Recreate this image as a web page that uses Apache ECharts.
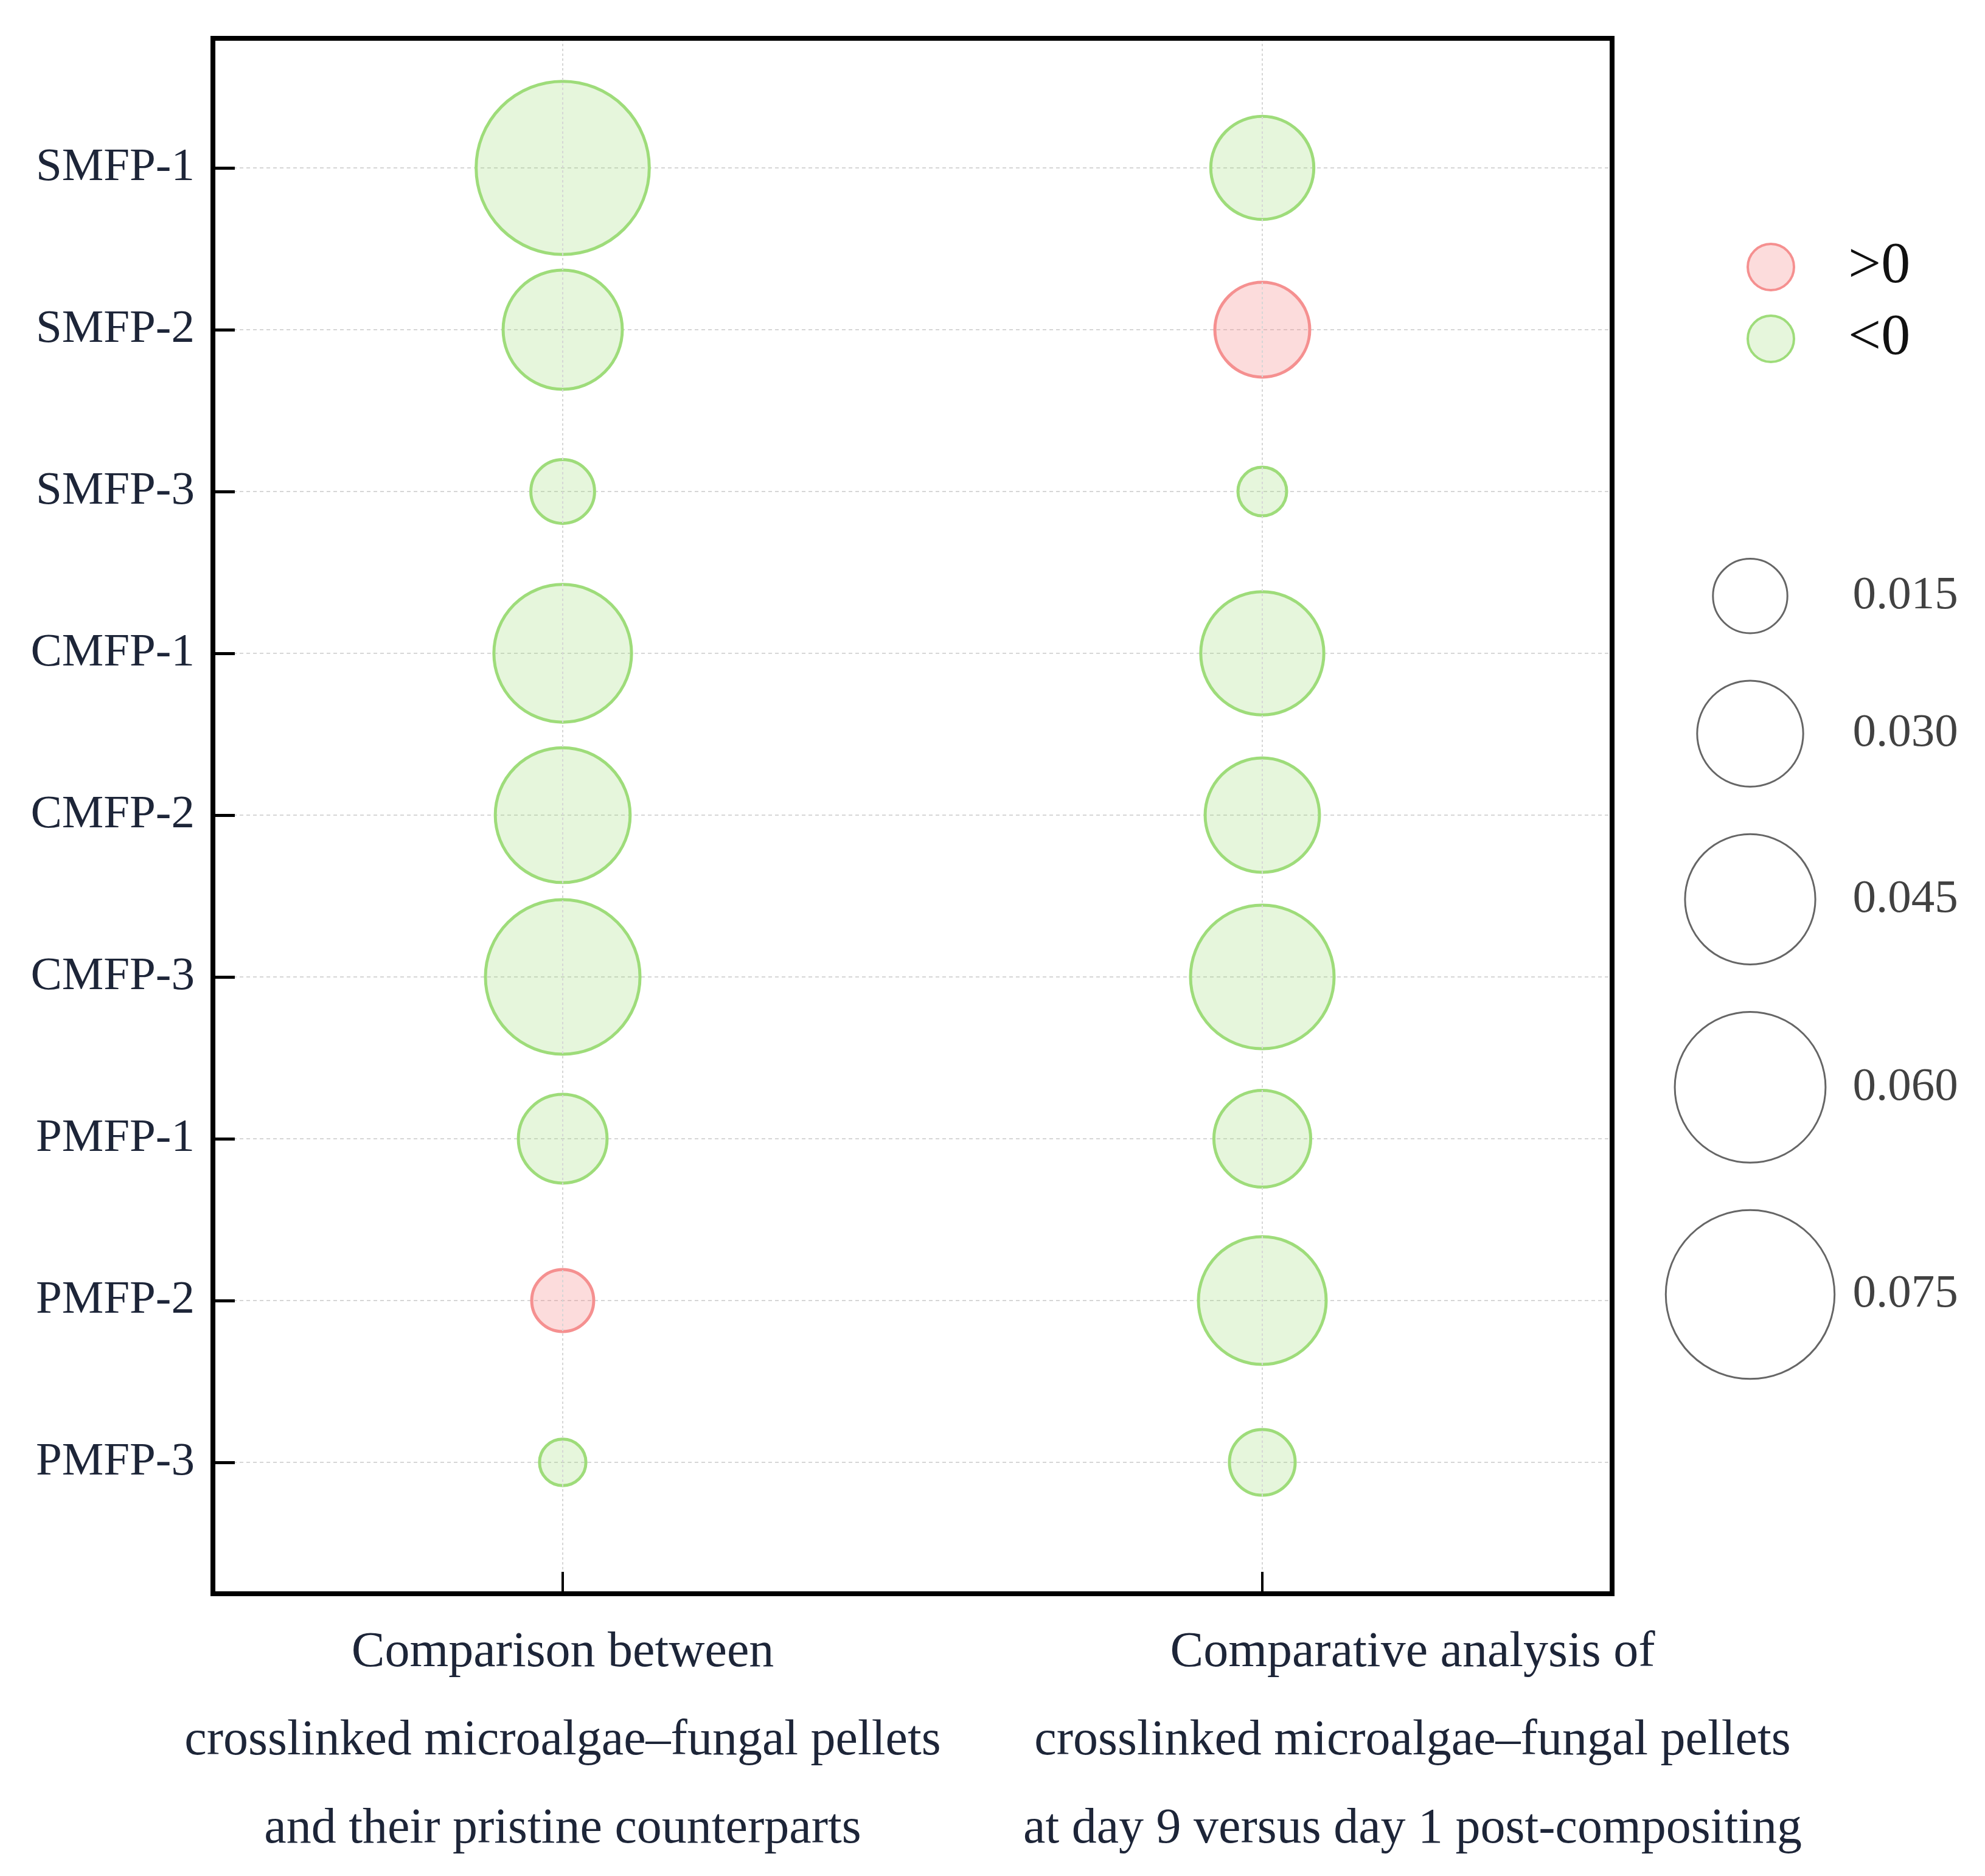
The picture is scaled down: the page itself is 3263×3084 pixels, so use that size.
<!DOCTYPE html>
<html>
<head>
<meta charset="utf-8">
<title>Bubble chart</title>
<script src="https://cdn.jsdelivr.net/npm/echarts@6/dist/echarts.min.js"></script>
<style>
  html, body { margin: 0; padding: 0; background: #fff; }
  #chart { width: 3263px; height: 3084px; }
</style>
</head>
<body>
<div id="chart"></div>
<script>
// rows (top to bottom) and the two comparisons
const rowLabels = ['SMFP-1', 'SMFP-2', 'SMFP-3', 'CMFP-1', 'CMFP-2', 'CMFP-3', 'PMFP-1', 'PMFP-2', 'PMFP-3']
const groupLabels = [
  'Comparison between\ncrosslinked microalgae\u2013fungal pellets\nand their pristine counterparts',
  'Comparative analysis of\ncrosslinked microalgae\u2013fungal pellets\nat day 9 versus day 1 post-compositing'
]

// change values (sign from colour)
const crosslinkedVsPristine = [-0.080, -0.0385, -0.0115, -0.051, -0.049, -0.064, -0.0217, 0.0109, -0.0063]
const day9VsDay1 = [-0.029, 0.0247, -0.0069, -0.041, -0.0355, -0.0554, -0.0257, -0.0441, -0.0122]

const sizeLegendValues = [0.015, 0.030, 0.045, 0.060, 0.075]
const signLabels = ['>0', '<0']

const FONT = 'Liberation Serif'
const SIZE_K = 1024          // outer diameter = SIZE_K * sqrt(|value|)
const BUBBLE_BORDER = 5
const LEGEND_BORDER = 3
const LEGEND_GAP = 75

function outerSize(v) {
  return SIZE_K * Math.sqrt(Math.abs(v))
}

const groups = [crosslinkedVsPristine, day9VsDay1]
const points = []
groups.forEach((vals, g) => {
  vals.forEach((v, r) => points.push([g, r + 1, v]))
})

// stack the size-legend circles top to bottom with a fixed gap
const legendY = []
let cursor = 0
sizeLegendValues.forEach((v) => {
  const d = outerSize(v)
  legendY.push(cursor + d / 2)
  cursor += d + LEGEND_GAP
})
const sizeLegendPoints = sizeLegendValues.map((v, i) => [0.5, legendY[i], v])
const sizeLegendLabels = sizeLegendValues.map((v, i) => [0.92, legendY[i], v])

const frameLine = { color: '#000', width: 8, cap: 'square' }
const gridDash = { color: '#d6d6d6', width: 2, type: [6, 5] }
const labelColor = '#1d2538'

const option = {
  animation: false,
  textStyle: { fontFamily: FONT },
  grid: [
    // outer frame
    { left: 350, top: 63, width: 2300, height: 2557, outerBoundsMode: 'none', containLabel: false },
    // rows of bubbles
    { left: 350, top: 276, width: 2300, height: 2128, outerBoundsMode: 'none', containLabel: false },
    // size legend
    { left: 2677, top: 917, width: 400, height: 1400, outerBoundsMode: 'none', containLabel: false }
  ],
  xAxis: [
    {
      type: 'category', gridIndex: 0, position: 'bottom', data: groupLabels, z: 10,
      axisLine: { show: true, onZero: false, lineStyle: frameLine },
      axisTick: { show: true, inside: true, alignWithLabel: true, length: 36, lineStyle: { color: '#000', width: 4 } },
      splitLine: { show: false },
      axisLabel: {
        interval: 0,
        margin: 25,
        hideOverlap: false,
        formatter: (value, idx) => value.split('\n').map(l => '{c' + idx + '|' + l + '}').join('\n'),
        rich: {
          c0: { fontFamily: FONT, fontSize: 82, lineHeight: 145, color: labelColor, padding: [0, 0, 0, 0] },
          c1: { fontFamily: FONT, fontSize: 82, lineHeight: 145, color: labelColor, padding: [0, 0, 0, 494] }
        }
      }
    },
    {
      type: 'category', gridIndex: 0, position: 'top', data: groupLabels, z: 10,
      axisLine: { show: true, onZero: false, lineStyle: frameLine },
      axisTick: { show: false }, axisLabel: { show: false }, splitLine: { show: false }
    },
    {
      type: 'category', gridIndex: 1, data: groupLabels, show: false
    },
    {
      type: 'value', gridIndex: 2, min: 0, max: 1, show: false
    }
  ],
  yAxis: [
    {
      type: 'value', gridIndex: 0, position: 'left', min: 0, max: 1, z: 10,
      axisLine: { show: true, onZero: false, lineStyle: frameLine },
      axisTick: { show: false }, axisLabel: { show: false }, splitLine: { show: false }
    },
    {
      type: 'value', gridIndex: 0, position: 'right', min: 0, max: 1, z: 10,
      axisLine: { show: true, onZero: false, lineStyle: frameLine },
      axisTick: { show: false }, axisLabel: { show: false }, splitLine: { show: false }
    },
    {
      type: 'value', gridIndex: 1, min: 1, max: 9, interval: 1, inverse: true,
      axisLine: { show: false, onZero: false },
      axisTick: { show: true, inside: true, length: 36, lineStyle: { color: '#000', width: 5 } },
      axisLabel: {
        margin: 30,
        fontFamily: FONT,
        fontSize: 77,
        color: labelColor,
        formatter: v => rowLabels[v - 1] || ''
      },
      splitLine: { show: true, lineStyle: gridDash }
    },
    {
      type: 'value', gridIndex: 2, min: 0, max: 1400, inverse: true, show: false
    }
  ],
  legend: {
    data: signLabels,
    orient: 'vertical',
    left: 2866,
    top: 386,
    itemWidth: 76,
    itemHeight: 76,
    itemGap: 22,
    icon: 'circle',
    selectedMode: false,
    itemStyle: { borderWidth: 4 },
    formatter: n => '{t|' + n + '}',
    textStyle: {
      rich: { t: { fontFamily: FONT, fontSize: 96, lineHeight: 76, color: '#111', padding: [0, 0, 0, 84] } }
    }
  },
  series: [
    {
      // vertical dotted guides through each column, full frame height
      type: 'scatter', xAxisIndex: 0, yAxisIndex: 0, data: [], silent: true,
      markLine: {
        silent: true,
        symbol: ['none', 'none'],
        label: { show: false },
        lineStyle: { color: '#d6d6d6', width: 2, type: [4, 4] },
        data: groupLabels.map((g, i) => ({ xAxis: i }))
      }
    },
    {
      name: '>0', type: 'scatter', xAxisIndex: 2, yAxisIndex: 2, silent: true,
      data: points.filter(p => p[2] > 0),
      symbol: 'circle',
      symbolSize: p => outerSize(p[2]) - BUBBLE_BORDER,
      itemStyle: { color: 'rgba(245,140,140,0.3)', borderColor: '#f59090', borderWidth: BUBBLE_BORDER, opacity: 1 }
    },
    {
      name: '<0', type: 'scatter', xAxisIndex: 2, yAxisIndex: 2, silent: true,
      data: points.filter(p => p[2] < 0),
      symbol: 'circle',
      symbolSize: p => outerSize(p[2]) - BUBBLE_BORDER,
      itemStyle: { color: 'rgba(150,218,110,0.24)', borderColor: '#9edc7a', borderWidth: BUBBLE_BORDER, opacity: 1 }
    },
    {
      name: 'size', type: 'scatter', xAxisIndex: 3, yAxisIndex: 3, silent: true,
      data: sizeLegendPoints,
      symbol: 'circle',
      symbolSize: p => outerSize(p[2]) - LEGEND_BORDER,
      itemStyle: { color: 'rgba(255,255,255,0)', borderColor: '#666', borderWidth: LEGEND_BORDER, opacity: 1 }
    },
    {
      name: 'sizeLabel', type: 'scatter', xAxisIndex: 3, yAxisIndex: 3, silent: true,
      data: sizeLegendLabels,
      symbol: 'circle',
      symbolSize: 1,
      itemStyle: { color: 'rgba(255,255,255,0)' },
      label: {
        show: true,
        position: 'right',
        distance: 0,
        fontFamily: FONT,
        fontSize: 77,
        color: '#111',
        formatter: p => p.value[2].toFixed(3)
      }
    }
  ]
}

const chart = echarts.init(document.getElementById('chart'))
chart.setOption(option)
</script>
</body>
</html>
